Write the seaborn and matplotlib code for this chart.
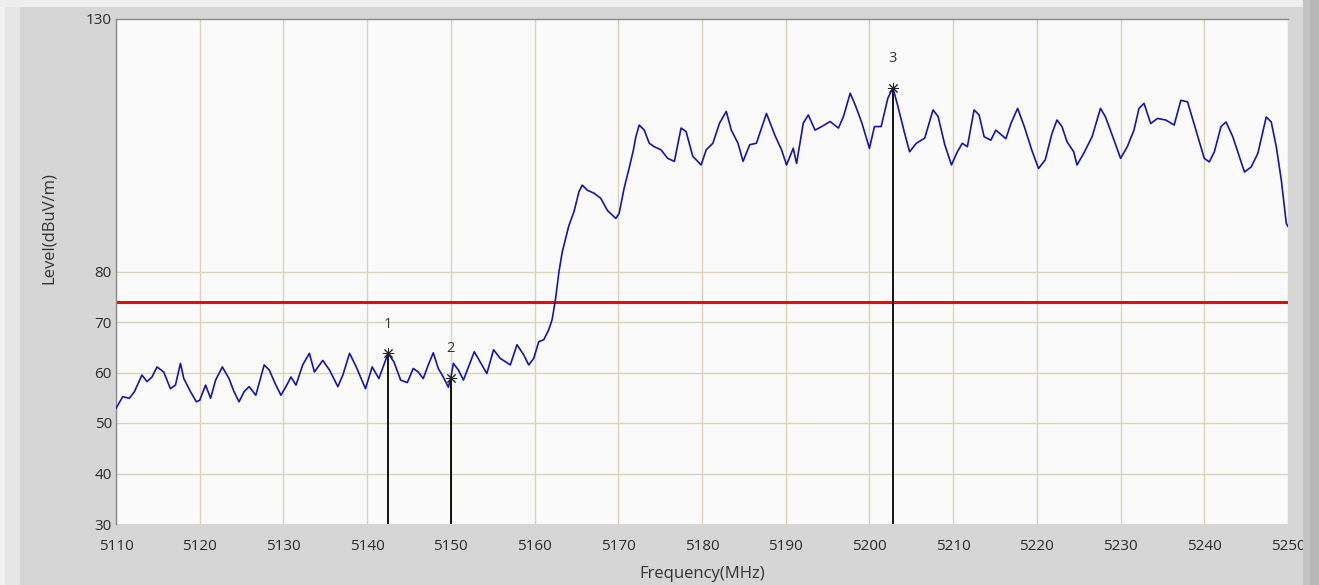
import matplotlib
matplotlib.use("Agg")
import matplotlib.pyplot as plt
from matplotlib.patches import Rectangle
import seaborn as sns
import pandas as pd

# Measured spectrum trace (frequency in MHz, level in dBuV/m)
freq_mhz = [
    5110.0, 5110.8, 5111.6, 5112.2, 5113.1, 5113.7, 5114.3, 5114.9, 5115.7, 5116.5,
    5117.1, 5117.7, 5118.1, 5118.9, 5119.6, 5120.0, 5120.7, 5121.3, 5121.9, 5122.7,
    5123.5, 5124.1, 5124.7, 5125.3, 5125.9, 5126.7, 5127.7, 5128.3, 5129.1, 5129.7,
    5130.3, 5130.9, 5131.5, 5132.3, 5133.1, 5133.7, 5134.7, 5135.5, 5136.5, 5137.1,
    5137.9, 5138.7, 5139.8, 5140.6, 5141.4, 5142.5, 5143.2, 5144.0, 5144.8, 5145.5,
    5146.1, 5146.7, 5147.3, 5147.9, 5148.5, 5149.1, 5149.7, 5150.0, 5150.3, 5150.9,
    5151.5, 5152.1, 5152.8, 5153.5, 5154.3, 5155.1, 5155.9, 5157.1, 5157.9, 5158.7,
    5159.3, 5159.9, 5160.5, 5161.1, 5161.7, 5162.1, 5162.5, 5162.9, 5163.3, 5163.7,
    5164.1, 5164.7, 5165.3, 5165.7, 5166.3, 5167.1, 5167.9, 5168.7, 5169.7, 5170.1,
    5170.7, 5171.3, 5171.8, 5172.1, 5172.5, 5173.1, 5173.7, 5174.3, 5175.1, 5175.9,
    5176.7, 5177.5, 5178.1, 5178.9, 5179.9, 5180.5, 5181.3, 5182.1, 5182.9, 5183.5,
    5184.3, 5184.9, 5185.7, 5186.5, 5187.7, 5188.7, 5189.5, 5190.1, 5190.9, 5191.3,
    5192.1, 5192.7, 5193.5, 5194.3, 5195.3, 5196.3, 5196.9, 5197.7, 5198.3, 5199.1,
    5200.0, 5200.6, 5201.4, 5202.2, 5202.8, 5203.4, 5204.2, 5204.8, 5205.6, 5206.6,
    5207.6, 5208.2, 5209.0, 5209.8, 5210.5, 5211.1, 5211.7, 5212.5, 5213.1, 5213.7,
    5214.5, 5215.1, 5216.3, 5216.9, 5217.7, 5218.5, 5219.4, 5220.2, 5221.0, 5221.8,
    5222.4, 5223.0, 5223.6, 5224.4, 5224.8, 5225.6, 5226.6, 5227.6, 5228.2, 5229.0,
    5230.0, 5230.8, 5231.6, 5232.2, 5232.8, 5233.6, 5234.4, 5235.4, 5236.4, 5237.2,
    5238.0, 5239.0, 5240.0, 5240.6, 5241.2, 5242.0, 5242.6, 5243.4, 5244.2, 5244.8,
    5245.6, 5246.4, 5247.4, 5248.0, 5248.6, 5249.2, 5249.8, 5250.0,
]
level_dbuv = [
    52.9, 55.2, 54.9, 56.2, 59.5, 58.2, 59.1, 61.1, 60.1, 56.8,
    57.5, 61.8, 58.8, 56.2, 54.2, 54.5, 57.5, 54.9, 58.5, 61.1,
    58.8, 56.2, 54.2, 56.2, 57.2, 55.5, 61.5, 60.5, 57.5, 55.5,
    57.2, 59.1, 57.5, 61.5, 63.8, 60.1, 62.4, 60.5, 57.2, 59.5,
    63.8, 61.1, 56.8, 61.1, 58.8, 63.8, 62.1, 58.5, 58.0, 60.8,
    60.1, 58.8, 61.5, 63.9, 60.8, 59.1, 57.1, 59.0, 61.8, 60.5,
    58.5, 61.1, 64.1, 62.1, 59.8, 64.5, 62.8, 61.5, 65.5, 63.5,
    61.5, 62.8, 66.1, 66.5, 68.5, 70.5, 74.5, 79.8, 83.8, 86.5,
    89.1, 91.8, 95.8, 97.1, 96.1, 95.5, 94.5, 92.1, 90.5, 91.5,
    96.5, 100.5, 104.0, 106.7, 109.0, 108.0, 105.4, 104.7, 104.1, 102.4,
    101.8, 108.4, 107.7, 102.8, 101.1, 104.1, 105.4, 109.4, 111.7, 108.0,
    105.4, 101.8, 105.1, 105.4, 111.3, 107.0, 104.1, 101.1, 104.4, 101.4,
    109.4, 111.0, 108.0, 108.7, 109.7, 108.4, 110.7, 115.3, 113.0, 109.4,
    104.4, 108.7, 108.7, 114.3, 116.4, 112.7, 107.4, 103.7, 105.4, 106.4,
    112.0, 110.7, 105.1, 101.1, 103.7, 105.4, 104.7, 112.0, 111.0, 106.7,
    106.0, 108.0, 106.3, 109.3, 112.3, 108.7, 104.0, 100.4, 102.1, 107.3,
    110.0, 108.7, 105.7, 103.7, 101.1, 103.4, 106.7, 112.3, 110.6, 107.0,
    102.4, 104.7, 108.0, 112.3, 113.3, 109.3, 110.3, 110.0, 109.0, 113.9,
    113.6, 108.0, 102.4, 101.7, 103.7, 108.7, 109.6, 106.7, 102.7, 99.7,
    100.7, 103.4, 110.6, 109.6, 104.7, 98.1, 89.5, 88.9,
]

# Peak markers
marker_ids = ["1", "2", "3"]
marker_freq = [5142.5, 5150.0, 5202.8]
marker_level = [63.8, 59.0, 116.4]

# Limit line
limit_level = 74.0

# Axis ticks
x_ticks = [5110, 5120, 5130, 5140, 5150, 5160, 5170, 5180, 5190, 5200,
           5210, 5220, 5230, 5240, 5250]
y_ticks = [30, 40, 50, 60, 70, 80, 130]
y_grid = [40, 50, 60, 70, 80]

sns.set_theme(style="white")
plt.rcParams["font.family"] = ["Open Sans", "DejaVu Sans"]
plt.rcParams["path.snap"] = True

W, H = 1319, 585
fig = plt.figure(figsize=(W / 100, H / 100), dpi=100, facecolor="#d6d6d6")

# window frame shading
fig.patches.append(Rectangle((0, 0), 20 / W, 1, transform=fig.transFigure,
                             facecolor="#e6e6e6", edgecolor="none", zorder=0))
fig.patches.append(Rectangle((0, 0), 5 / W, 1, transform=fig.transFigure,
                             facecolor="#f2f2f2", edgecolor="none", zorder=0))
fig.patches.append(Rectangle((0, 1 - 7 / H), 1, 7 / H, transform=fig.transFigure,
                             facecolor="#eeeeee", edgecolor="none", zorder=0))
fig.patches.append(Rectangle((1303 / W, 0), 16 / W, 1, transform=fig.transFigure,
                             facecolor="#c4c4c4", edgecolor="none", zorder=0))
fig.patches.append(Rectangle((1310 / W, 0), 9 / W, 1, transform=fig.transFigure,
                             facecolor="#b8b8b8", edgecolor="none", zorder=0))

left, right, bottom, top = 116, 1288, 524, 19
ax = fig.add_axes([left / W, 1 - bottom / H, (right - left) / W, (bottom - top) / H])
ax.set_facecolor("#fafafa")

grid_color = "#dcd3b4"
for xv in x_ticks:
    ax.axvline(xv, color=grid_color, linewidth=1.0, zorder=1)
for yv in y_grid:
    ax.axhline(yv, color=grid_color, linewidth=1.0, zorder=1)

df = pd.DataFrame({"Frequency": freq_mhz, "Level": level_dbuv})
sns.lineplot(data=df, x="Frequency", y="Level", ax=ax, color="#1414b4",
             linewidth=1.2, estimator=None, sort=False, zorder=3)

ax.axhline(limit_level, color="#e01010", linewidth=2.2, zorder=2)

for mid, mf, ml in zip(marker_ids, marker_freq, marker_level):
    ax.vlines(mf, 30, ml, color="black", linewidth=1.3, zorder=4)
    ax.plot([mf], [ml], marker=(8, 2, 0), markersize=8, color="#222222",
            markeredgewidth=0.7, zorder=5)
    ax.annotate(mid, (mf, ml), xytext=(0, 21), textcoords="offset points",
                ha="center", va="center", fontsize=10.5, color="#333333")

ax.set_xlim(5110, 5250)
ax.set_ylim(30, 130)
ax.set_xticks(x_ticks)
ax.set_yticks(y_ticks)
ax.tick_params(axis="both", length=0, labelsize=11, labelcolor="#2a2a2a")
ax.tick_params(axis="x", pad=11)
ax.tick_params(axis="y", pad=3)

for side in ["right", "bottom"]:
    ax.spines[side].set_visible(False)
for side in ["left", "top"]:
    ax.spines[side].set_color("#8a8a8a")
    ax.spines[side].set_linewidth(1.0)

ax.set_xlabel("Frequency(MHz)", fontsize=12, color="#333333", va="center")
ax.set_ylabel("Level(dBuV/m)", fontsize=12, color="#333333", va="center")
ax.xaxis.set_label_coords(0.5, -0.099)
ax.yaxis.set_label_coords(-0.057, 0.586)

fig.savefig("out.png", dpi=100, facecolor=fig.get_facecolor())
